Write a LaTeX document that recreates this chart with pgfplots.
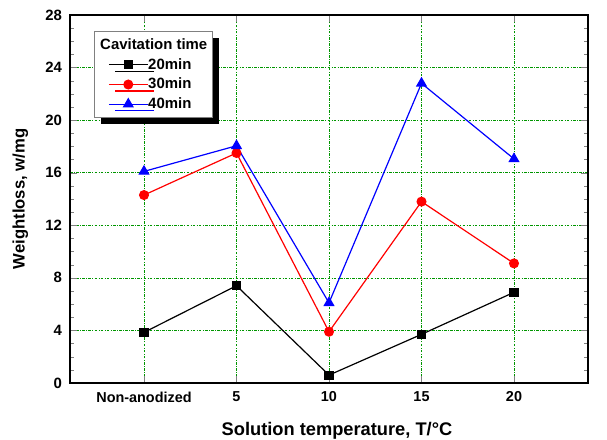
\documentclass[border=0pt]{standalone}
\usepackage{fontspec}
\setmainfont{Liberation Sans}
\usepackage{pgfplots}
\pgfplotsset{compat=1.18}
\definecolor{gridgreen}{RGB}{0,150,0}
\begin{document}
\begin{tikzpicture}
\begin{axis}[
  scale only axis,
  width=388.5pt, height=276pt,
  xmin=-4, xmax=24, ymin=0, ymax=28,
  xtick={0,5,10,15,20},
  xticklabels={Non-anodized,5,10,15,20},
  ytick={0,4,...,28},
  minor y tick num=3,
  tick align=inside,
  major tick length=5pt, minor tick length=3pt,
  axis line style={line width=1.2pt},
  grid=major,
  major grid style={gridgreen, line width=0.5pt, dash pattern=on 2pt off 1pt on 0.6pt off 1pt},
  xticklabel style={font=\bfseries\fontsize{10.8}{12}\selectfont, yshift=-3pt},
  yticklabel style={font=\bfseries\fontsize{11.2}{12}\selectfont, xshift=-2.5pt},
  /pgf/number format/assume math mode=true,
  xlabel={\bfseries Solution temperature, T/°C},
  ylabel={\bfseries Weightloss, w/mg},
  xlabel style={font=\bfseries\fontsize{13.7}{15}\selectfont, yshift=-8pt, xshift=6pt},
  ylabel style={font=\bfseries\fontsize{12.5}{14}\selectfont, yshift=6pt},
  legend cell align=left,
  legend image code/.code={%
    \draw[mark repeat=2,mark phase=2,#1] plot coordinates {(0pt,0pt) (14.5pt,0pt) (29pt,0pt)};},
  legend style={at={(0.046,0.9565)}, anchor=north west, draw=gray, line width=0.8pt,
    fill=white, font=\bfseries\fontsize{11.2}{12}\selectfont,
    preaction={fill=black, transform canvas={shift={(4.8pt,-4.8pt)}}},
    row sep=1.1pt, column sep=0pt, inner xsep=10.5pt, inner ysep=3.5pt,
    nodes={inner xsep=0pt, inner ysep=2pt, text depth=0.15em}},
]
\addlegendimage{empty legend}
\addlegendentry{\hspace{-36pt}Cavitation time\kern-6.5pt\mbox{}}
\addplot[black, line width=0.9pt, mark=square*, mark size=3pt] coordinates {
 (0,3.85) (5,7.4) (10,0.6) (15,3.7) (20,6.9)};
\addlegendentry{20min}
\addplot[red, line width=0.9pt, mark=*, mark size=3.3pt] coordinates {
 (0,14.3) (5,17.5) (10,3.9) (15,13.8) (20,9.1)};
\addlegendentry{30min}
\addplot[blue, line width=0.9pt, mark=triangle*, mark size=4pt] coordinates {
 (0,16.1) (5,18.05) (10,6.1) (15,22.8) (20,17.05)};
\addlegendentry{40min}
\end{axis}
\pgfresetboundingbox
\useasboundingbox ([shift={(-52.5pt,-42.75pt)}]current axis.south west) rectangle ([shift={(14.25pt,11.25pt)}]current axis.north east);
\end{tikzpicture}
\end{document}
